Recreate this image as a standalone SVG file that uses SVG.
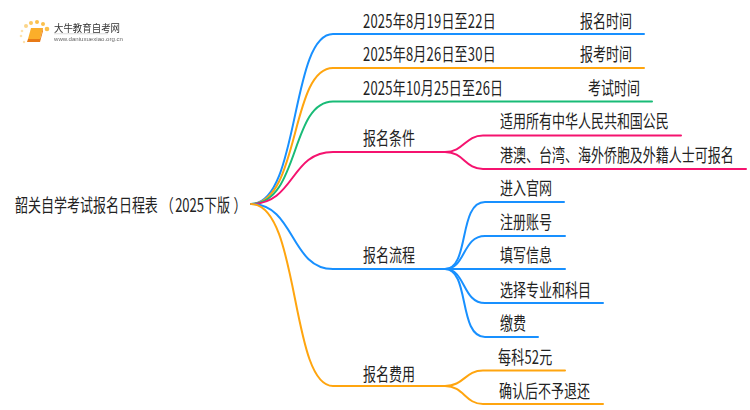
<svg xmlns="http://www.w3.org/2000/svg" width="750" height="410" viewBox="0 0 750 410">
<defs><filter id="soft" x="-10%" y="-10%" width="120%" height="120%"><feGaussianBlur stdDeviation="0.5"/></filter></defs>
<style>
text{font-family:"Noto Sans CJK SC","Liberation Sans",sans-serif;font-size:18px;fill:#222;transform:scale(.722,1)}
.d{letter-spacing:.3px}
.c path{fill:none;stroke-width:2;stroke-linecap:round}
.blue{stroke:#1890ff}.or{stroke:#ffa50f}.gr{stroke:#19bb77}.pk{stroke:#f5136f}
#logo text{transform:none}
</style>
<rect width="750" height="410" fill="#fff"/>
<g id="logo" filter="url(#soft)">
<circle cx="26" cy="26" r="2" fill="#fbd58a"/><circle cx="31" cy="23" r="2" fill="#fcc85f"/><circle cx="37" cy="22" r="2" fill="#fbc04c"/><circle cx="43" cy="24" r="2" fill="#fbc04c"/><circle cx="47" cy="29" r="2.300" fill="#fbc04c"/><circle cx="22" cy="31" r="1.300" fill="#fde2ae"/><circle cx="21" cy="36" r="1.300" fill="#fde2ae"/><circle cx="24" cy="42" r="1.200" fill="#fde2ae"/>
<path d="M31 28h12l-3 11h-12z" fill="#fbae2c"/><path d="M28 39h12l3-11v3l-3 11h-13z" fill="#e87a14"/>
<text x="54" y="32" style="font-size:10px;fill:#333" textLength="66" lengthAdjust="spacingAndGlyphs">大牛教育自考网</text>
<rect x="54" y="33.500" width="54" height="0.700" fill="#ccc"/>
<text x="54" y="41" style="font-size:6px;fill:#666;font-family:'Liberation Sans',sans-serif" textLength="69" lengthAdjust="spacingAndGlyphs">www.daniuxuexiao.org.cn</text>
</g>
<g id="connectors" class="c">
<path class="blue" d="M251 204C300 204 290 34 333 34H644"/>
<path class="or" d="M251 204C300 204 290 68 333 68H644"/>
<path class="gr" d="M251 204C300 204 290 101.500 333 101.500H652"/>
<path class="pk" d="M251 204C295 204 290 152 333 152H447"/>
<path class="blue" d="M251 204C295 204 290 269 333 269H447"/>
<path class="or" d="M251 204C300 204 290 386 333 386H447"/>
<path class="pk" d="M445 152C464 152 465 135.500 483 135.500H681"/>
<path class="pk" d="M445 152C464 152 465 169 483 169H746"/>
<path class="blue" d="M445 269C470 269 458 202 485 202H564"/>
<path class="blue" d="M445 269C466 269 462 236 485 236H565"/>
<path class="blue" d="M445 269H565"/>
<path class="blue" d="M445 269C466 269 462 303 485 303H603"/>
<path class="blue" d="M445 269C470 269 458 337 485 337H538"/>
<path class="or" d="M445 386C464 386 465 370.500 483 370.500H565"/>
<path class="or" d="M445 386C464 386 465 404 483 404H603"/>
</g>
<g id="root" transform="translate(15 212)"><text>韶关自学考试报名日程表<tspan dx="4">（</tspan><tspan dx="2">2025下版</tspan><tspan dx="5">）</tspan></text></g>
<g id="n1a" transform="translate(363 28)"><text class="d">2025年8月19日至22日</text></g>
<g id="n1b" transform="translate(580 28)"><text>报名时间</text></g>
<g id="n2a" transform="translate(363 61)"><text class="d">2025年8月26日至30日</text></g>
<g id="n2b" transform="translate(580 61)"><text>报考时间</text></g>
<g id="n3a" transform="translate(363 95)"><text class="d">2025年10月25日至26日</text></g>
<g id="n3b" transform="translate(588 95)"><text>考试时间</text></g>
<g id="n4" transform="translate(363 145)"><text>报名条件</text></g>
<g id="n41" transform="translate(500 128)"><text>适用所有中华人民共和国公民</text></g>
<g id="n42" transform="translate(500 162)"><text>港澳、台湾、海外侨胞及外籍人士可报名</text></g>
<g id="n5" transform="translate(363 262)"><text>报名流程</text></g>
<g id="n51" transform="translate(500 195)"><text>进入官网</text></g>
<g id="n52" transform="translate(500 229)"><text>注册账号</text></g>
<g id="n53" transform="translate(500 262)"><text>填写信息</text></g>
<g id="n54" transform="translate(500 297)"><text>选择专业和科目</text></g>
<g id="n55" transform="translate(500 330)"><text>缴费</text></g>
<g id="n6" transform="translate(363 381)"><text>报名费用</text></g>
<g id="n61" transform="translate(498 364)"><text class="d">每科52元</text></g>
<g id="n62" transform="translate(499 398)"><text>确认后不予退还</text></g>
</svg>
